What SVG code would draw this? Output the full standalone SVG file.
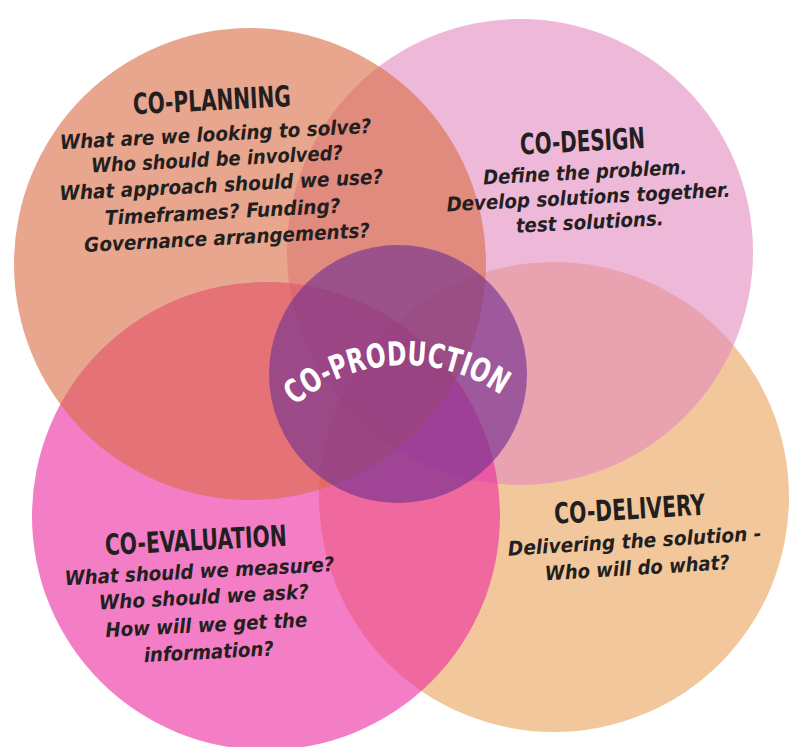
<svg xmlns="http://www.w3.org/2000/svg" width="795" height="747" viewBox="0 0 795 747">
<defs>
<style>
.c{fill-opacity:0.6}
.title{font-family:"DejaVu Sans Condensed","DejaVu Sans","Liberation Sans",sans-serif;font-stretch:condensed;font-weight:700;font-size:29px;fill:#231f20;text-anchor:middle}
.body{font-family:"DejaVu Sans","Liberation Sans",sans-serif;font-weight:700;font-style:italic;font-size:20px;fill:#231f20;text-anchor:middle}
.center{font-family:"DejaVu Sans Condensed","DejaVu Sans","Liberation Sans",sans-serif;font-stretch:condensed;font-weight:700;font-size:33px;fill:#ffffff}
</style>
<path id="arc" d="M254.4,457.3 A169,169 0 0 1 546.7,442.0"/>
</defs>
<rect width="795" height="747" fill="#ffffff"/>
<g id="co-delivery"><circle class="c" cx="554" cy="497" r="235" fill="#E9A25A"/></g>
<g id="co-design"><circle class="c" cx="520" cy="252" r="233" fill="#E389BE"/></g>
<g id="co-evaluation"><circle class="c" cx="266" cy="516" r="234" fill="#ED28A0"/></g>
<g id="co-planning"><circle class="c" cx="250" cy="264" r="236" fill="#D96B43"/></g>
<g id="co-production"><circle cx="398" cy="374" r="129" fill="#753390" fill-opacity="0.65"/>
<text class="center"><textPath href="#arc" startOffset="50%" text-anchor="middle" textLength="222" lengthAdjust="spacingAndGlyphs">CO-PRODUCTION</textPath></text>
</g>
<g id="co-planning-text" transform="rotate(-3 218 180)">
<text class="title" x="216" y="110" textLength="158" lengthAdjust="spacingAndGlyphs">CO-PLANNING</text>
<text class="body" x="218" y="141" textLength="312" lengthAdjust="spacingAndGlyphs">What are we looking to solve?</text>
<text class="body" x="218" y="166" textLength="252" lengthAdjust="spacingAndGlyphs">Who should be involved?</text>
<text class="body" x="221" y="192" textLength="324" lengthAdjust="spacingAndGlyphs">What approach should we use?</text>
<text class="body" x="221" y="219" textLength="236" lengthAdjust="spacingAndGlyphs">Timeframes? Funding?</text>
<text class="body" x="224" y="245" textLength="286" lengthAdjust="spacingAndGlyphs">Governance arrangements?</text>
</g>
<g id="co-design-text" transform="rotate(-3 588 190)">
<text class="title" x="585" y="151" textLength="125" lengthAdjust="spacingAndGlyphs">CO-DESIGN</text>
<text class="body" x="586" y="179" textLength="204" lengthAdjust="spacingAndGlyphs">Define the problem.</text>
<text class="body" x="588" y="204" textLength="284" lengthAdjust="spacingAndGlyphs">Develop solutions together.</text>
<text class="body" x="588" y="229" textLength="148" lengthAdjust="spacingAndGlyphs">test solutions.</text>
</g>
<g id="co-evaluation-text" transform="rotate(-3 203 600)">
<text class="title" x="199" y="550" textLength="182" lengthAdjust="spacingAndGlyphs">CO-EVALUATION</text>
<text class="body" x="201" y="578" textLength="270" lengthAdjust="spacingAndGlyphs">What should we measure?</text>
<text class="body" x="204" y="604" textLength="210" lengthAdjust="spacingAndGlyphs">Who should we ask?</text>
<text class="body" x="205" y="632" textLength="202" lengthAdjust="spacingAndGlyphs">How will we get the</text>
<text class="body" x="206" y="659" textLength="130" lengthAdjust="spacingAndGlyphs">information?</text>
</g>
<g id="co-delivery-text" transform="rotate(-3.5 634 548)">
<text class="title" x="632" y="519" textLength="151" lengthAdjust="spacingAndGlyphs">CO-DELIVERY</text>
<text class="body" x="635" y="548" textLength="254" lengthAdjust="spacingAndGlyphs">Delivering the solution -</text>
<text class="body" x="636" y="575" textLength="185" lengthAdjust="spacingAndGlyphs">Who will do what?</text>
</g>
</svg>
